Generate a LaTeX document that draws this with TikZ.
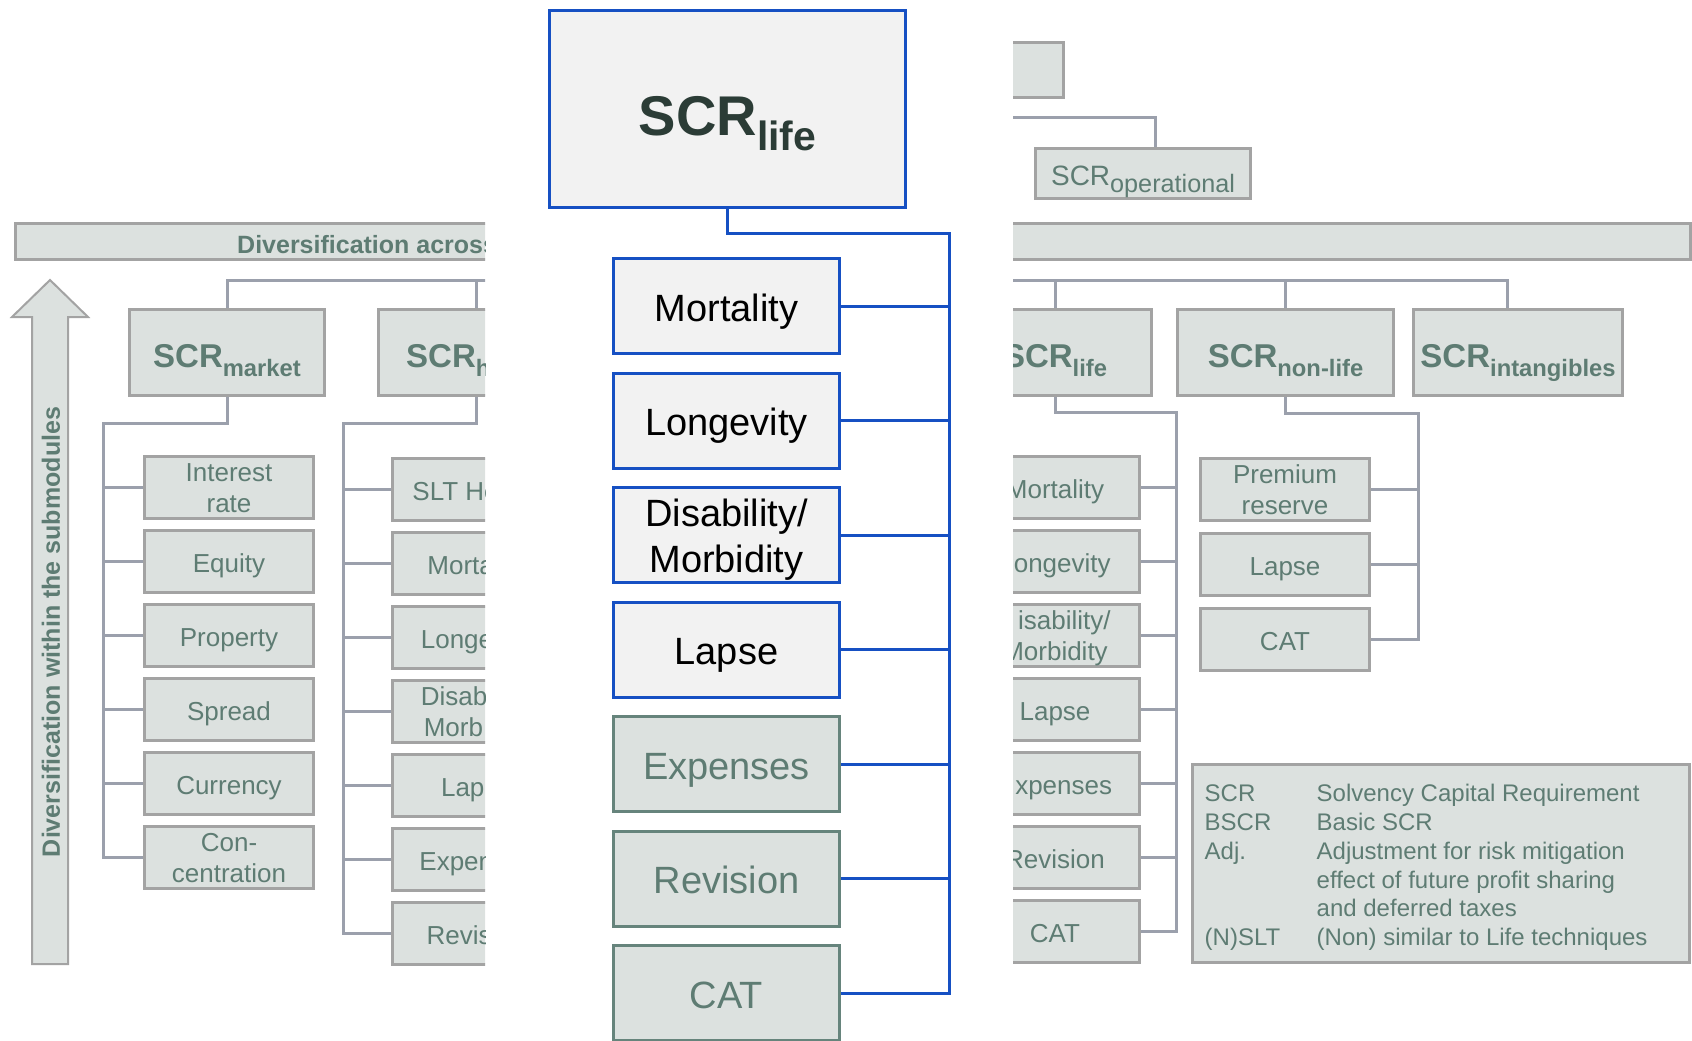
\documentclass[tikz,border=0pt]{standalone}
\usepackage{fontspec}
\setmainfont{Liberation Sans}
\usepackage{graphicx}
\usetikzlibrary{calc}

\definecolor{boxfill}{RGB}{220,225,223}
\definecolor{boxline}{RGB}{163,163,163}
\definecolor{linkgrey}{RGB}{155,160,172}
\definecolor{txtgreen}{RGB}{94,124,115}
\definecolor{lifeblue}{RGB}{22,80,195}
\definecolor{lifefill}{RGB}{242,242,242}
\definecolor{darkgreen}{RGB}{43,60,54}
\definecolor{midline}{RGB}{102,132,124}

\newcommand{\scr}[2][0.72]{SCR\raisebox{-0.28em}{\scalebox{#1}{#2}}}

\tikzset{
  gbox/.style={draw=boxline, line width=3pt, fill=boxfill, text=txtgreen, inner sep=0pt, align=center},
  kidbase/.style={gbox, minimum width=169pt, minimum height=62pt, font=\fontsize{26}{31}\selectfont},
  kid/.style={kidbase, text height=22pt, text depth=0pt},
  kidtwo/.style={kidbase, text height=50pt, text depth=0pt},
  subbox/.style={gbox, minimum width=195pt, minimum height=86pt, text height=29pt, text depth=0pt, font=\bfseries\fontsize{33}{36}\selectfont},
  bluebase/.style={draw=lifeblue, line width=3pt, fill=lifefill, text=black, inner sep=0pt, align=center, minimum width=226pt, minimum height=95pt, font=\fontsize{38}{46}\selectfont},
  bluebox/.style={bluebase, text height=30pt, text depth=0pt},
  bluetwo/.style={bluebase, text height=74pt, text depth=0pt},
  greenbox/.style={bluebox, draw=midline, fill=boxfill, text=txtgreen},
  lifebig/.style={bluebox, minimum width=356pt, minimum height=197pt, text=darkgreen, text height=52pt, font=\bfseries\fontsize{56}{60}\selectfont},
  link/.style={draw=linkgrey, line width=3pt},
  bluelink/.style={draw=lifeblue, line width=3pt},
  boldlabel/.style={text=txtgreen, font=\bfseries\fontsize{25}{28}\selectfont, inner sep=0pt}
}

\begin{document}
\begin{tikzpicture}[x=1pt, y=-1pt]
	%%%%% START %%%%%
	\useasboundingbox (0,0) rectangle (1692,1041);

	% the whole module tree, seen only left and right of the inset
	\begin{scope}
		\clip (0,0) rectangle (485,1041) (1013,0) rectangle (1692,1041);

		\node[gbox, minimum width=220pt, minimum height=55pt] (bscr) at (953.5,70) {};
		\node[gbox, minimum width=215pt, minimum height=50pt, text height=23pt, text depth=0pt, font=\fontsize{28}{30}\selectfont] (op) at (1143,173.5) {\scr[0.9]{operational}};
		\coordinate (opbus) at (1000,117);
		\draw[link] (opbus) -| ([xshift=12pt]op.north);

		\draw[gbox] (15.5,223.5) rectangle (1690.5,259.5);
		\node[boldlabel, anchor=base west] (acrosslabel) at (237,253) {Diversification across};

		\draw[draw=boxline, line width=2pt, fill=boxfill] (32,964) -- (32,317) -- (12,317) -- (50,280) -- (88,317) -- (68,317) -- (68,964) -- cycle;
		\node[boldlabel, rotate=90] (withinlabel) at (51,632) {Diversification within the submodules};

		% modules
		\node[subbox] (market) at (227,352.5) {\scr{market}};
		\node[subbox] (health) at (476,352.5) {\scr{h\phantom{ealth}}};
		\node[subbox, minimum width=192pt] (rlife) at (1055,352.5) {\scr{life}};
		\node[subbox, minimum width=216pt] (nonlife) at (1285.5,352.5) {\scr{non-life}};
		\node[subbox, minimum width=209pt] (intang) at (1518,352.5) {\scr{intangibles}};

		\coordinate (lcut) at (500,280);
		\coordinate (rcut) at (1000,280);
		\draw[link] (market.north) |- (lcut);
		\draw[link] (health.north) -- (health.north |- lcut);
		\draw[link] (rcut) -| ([xshift=-11pt]intang.north);
		\draw[link] (rlife.north) -- (rlife.north |- rcut);
		\draw[link] (nonlife.north) -- (nonlife.north |- rcut);

		% market
		\node[kidtwo] (m1) at (229,487) {Interest\\rate};
		\node[kid] (m2) at (229,561) {Equity};
		\node[kid] (m3) at (229,635) {Property};
		\node[kid] (m4) at (229,709) {Spread};
		\node[kid] (m5) at (229,783) {Currency};
		\node[kidtwo] (m6) at (229,857) {Con-\\centration};
		\coordinate (mbus) at (103,423);
		\draw[link] (market.south) |- (mbus) |- (m6.west);
		\foreach \k in {1,...,5}
			\draw[link] (m\k.west) -- (m\k.west -| mbus);

		% health
		\node[kid] (h1) at (476.5,489) {SLT He\phantom{alth}};
		\node[kid] (h2) at (476.5,563) {Morta\phantom{lity}};
		\node[kid] (h3) at (476.5,637) {Longe\phantom{vity}};
		\node[kidtwo] (h4) at (476.5,711) {Disab\phantom{ility/}\\Morb\phantom{idity}};
		\node[kid] (h5) at (476.5,785) {Lap\phantom{se}};
		\node[kid] (h6) at (476.5,859) {Expen\phantom{ses}};
		\node[kid] (h7) at (476.5,933) {Revis\phantom{ion}};
		\coordinate (hbus) at (343,423);
		\draw[link] (health.south) |- (hbus) |- (h7.west);
		\foreach \k in {1,...,6}
			\draw[link] (h\k.west) -- (h\k.west -| hbus);

		% life
		\node[kid] (l1) at (1055,487.5) {Mortality};
		\node[kid] (l2) at (1055,561.5) {\phantom{L}ongevity};
		\node[kidtwo] (l3) at (1055,635.5) {\phantom{D}isability/\\Morbidity};
		\node[kid] (l4) at (1055,709.5) {Lapse};
		\node[kid] (l5) at (1055,783.5) {\phantom{E}xpenses};
		\node[kid] (l6) at (1055,857.5) {Revision};
		\node[kid] (l7) at (1055,931.5) {CAT};
		\coordinate (lbus) at (1176,412);
		\draw[link] (rlife.south) |- (lbus) |- (l7.east);
		\foreach \k in {1,...,6}
			\draw[link] (l\k.east) -- (l\k.east -| lbus);

		% non-life
		\node[kidtwo] (n1) at (1285,489) {Premium\\reserve};
		\node[kid] (n2) at (1285,564) {Lapse};
		\node[kid] (n3) at (1285,639) {CAT};
		\coordinate (nbus) at (1418,413);
		\draw[link] (nonlife.south) |- (nbus) |- (n3.east);
		\foreach \k in {1,2}
			\draw[link] (n\k.east) -- (n\k.east -| nbus);

		% abbreviations
		\node[gbox, minimum width=497pt, minimum height=198pt] (legend) at (1441,863.5) {};
		\node[text=txtgreen, inner sep=0pt, anchor=west, align=left, font=\fontsize{24}{28.7}\selectfont] (legendtext) at ([xshift=13.5pt, yshift=-4pt]legend.west) {%
			\makebox[112pt][l]{SCR}Solvency Capital Requirement\\
			\makebox[112pt][l]{BSCR}Basic SCR\\
			\makebox[112pt][l]{Adj.}Adjustment for risk mitigation\\
			\makebox[112pt][l]{}effect of future profit sharing\\
			\makebox[112pt][l]{}and deferred taxes\\
			\makebox[112pt][l]{(N)SLT}(Non) similar to Life techniques};
	\end{scope}

	% inset: life module
	\node[lifebig] (life) at (727.5,109) {\scr[0.73]{life}};
	\node[bluebox] (mort) at (726.5,306) {Mortality};
	\node[bluebox] (long) at (726.5,420.5) {Longevity};
	\node[bluetwo] (disab) at (726.5,535) {Disability/\\Morbidity};
	\node[bluebox] (lapse) at (726.5,649.5) {Lapse};
	\node[greenbox] (exp) at (726.5,764) {Expenses};
	\node[greenbox] (rev) at (726.5,878.5) {Revision};
	\node[greenbox] (cat) at (726.5,993) {CAT};

	\coordinate (cbus) at (949,233);
	\draw[bluelink] (life.south) |- (cbus) |- (cat.east);
	\foreach \n in {mort,long,disab,lapse,exp,rev}
		\draw[bluelink] (\n.east) -- (\n.east -| cbus);

	%%%%% END %%%%%
\end{tikzpicture}
\end{document}
